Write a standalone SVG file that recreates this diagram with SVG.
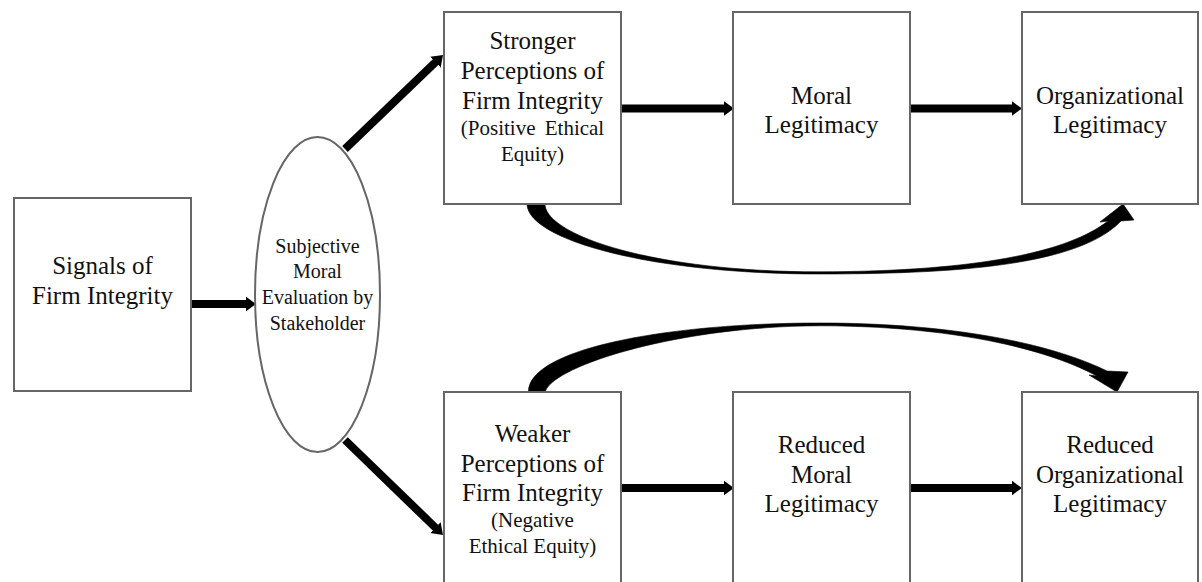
<svg xmlns="http://www.w3.org/2000/svg" width="1202" height="582" viewBox="0 0 1202 582">
<style>
.box{fill:#fff;stroke:#666;stroke-width:2}
.t{font-family:"Liberation Serif","Times New Roman",serif;font-size:25px;fill:#111;text-anchor:middle}
.s{font-family:"Liberation Serif","Times New Roman",serif;font-size:21px;fill:#111;text-anchor:middle}
.e{font-family:"Liberation Serif","Times New Roman",serif;font-size:20px;fill:#111;text-anchor:middle}
.arr{stroke:#000;stroke-width:8;fill:none;marker-end:url(#head)}
.curve{fill:#000;stroke:#000;stroke-width:0.6;stroke-linejoin:round}
</style>
<defs>
<marker id="head" markerUnits="userSpaceOnUse" viewBox="0 -8 11 16" refX="0.5" refY="0" markerWidth="11" markerHeight="16" orient="auto">
<path d="M0,-7.5 L10.5,0 L0,7.5 Z" fill="#000"/>
</marker>
</defs>
<rect width="1202" height="582" fill="#fff"/>
<g id="connectors">
<line class="arr" x1="191" y1="304" x2="246" y2="304"/>
<line class="arr" x1="345" y1="149" x2="435.8" y2="61.9"/>
<line class="arr" x1="345" y1="440" x2="435.8" y2="528"/>
<line class="arr" x1="621" y1="108.5" x2="724" y2="108.5"/>
<line class="arr" x1="910" y1="108.5" x2="1012" y2="108.5"/>
<line class="arr" x1="621" y1="488" x2="724" y2="488"/>
<line class="arr" x1="910" y1="488" x2="1012" y2="488"/>
<path class="curve" d="M527,205 C530,240 650,274 820,274 C965,274 1080,264 1121,221 L1134,220 L1123,204 L1100,222 L1108,221 C1062,257 955,271.5 820,271.8 C655,272 548,236 545,205 Z"/>
<path class="curve" d="M528.5,391 C530,348 670,323 820,323 C950,323 1050,343 1107,371 L1128,372 L1117,392 L1089,375 L1097,376 C1045,348 950,326 820,325.8 C680,326 555,365 545.5,391 Z"/>
</g>
<g id="signals">
<rect class="box" x="14" y="198" width="177" height="193"/>
<text class="t" x="102.5" y="274">Signals of</text>
<text class="t" x="102.5" y="304">Firm Integrity</text>
</g>
<g id="evaluation">
<ellipse cx="317.5" cy="294.5" rx="62.5" ry="157.5" fill="#fff" stroke="#666" stroke-width="2"/>
<text class="e" x="317.5" y="253">Subjective</text>
<text class="e" x="317.5" y="278">Moral</text>
<text class="e" x="317.5" y="304">Evaluation by</text>
<text class="e" x="317.5" y="330">Stakeholder</text>
</g>
<g id="stronger">
<rect class="box" x="444" y="12" width="177" height="192"/>
<text class="t" x="532.5" y="49">Stronger</text>
<text class="t" x="532.5" y="79">Perceptions of</text>
<text class="t" x="532.5" y="109">Firm Integrity</text>
<text class="s" x="532.5" y="135" word-spacing="4">(Positive Ethical</text>
<text class="s" x="532.5" y="161">Equity)</text>
</g>
<g id="moral">
<rect class="box" x="733" y="12" width="177" height="192"/>
<text class="t" x="821.5" y="104">Moral</text>
<text class="t" x="821.5" y="133">Legitimacy</text>
</g>
<g id="organizational">
<rect class="box" x="1022" y="12" width="176" height="192"/>
<text class="t" x="1110" y="104">Organizational</text>
<text class="t" x="1110" y="133">Legitimacy</text>
</g>
<g id="weaker">
<rect class="box" x="444" y="392" width="177" height="194"/>
<text class="t" x="532.5" y="442">Weaker</text>
<text class="t" x="532.5" y="472">Perceptions of</text>
<text class="t" x="532.5" y="501">Firm Integrity</text>
<text class="s" x="532.5" y="527">(Negative</text>
<text class="s" x="532.5" y="553">Ethical Equity)</text>
</g>
<g id="reduced-moral">
<rect class="box" x="733" y="392" width="177" height="194"/>
<text class="t" x="821.5" y="453">Reduced</text>
<text class="t" x="821.5" y="483">Moral</text>
<text class="t" x="821.5" y="512">Legitimacy</text>
</g>
<g id="reduced-organizational">
<rect class="box" x="1022" y="392" width="176" height="194"/>
<text class="t" x="1110" y="453">Reduced</text>
<text class="t" x="1110" y="483">Organizational</text>
<text class="t" x="1110" y="512">Legitimacy</text>
</g>
</svg>
